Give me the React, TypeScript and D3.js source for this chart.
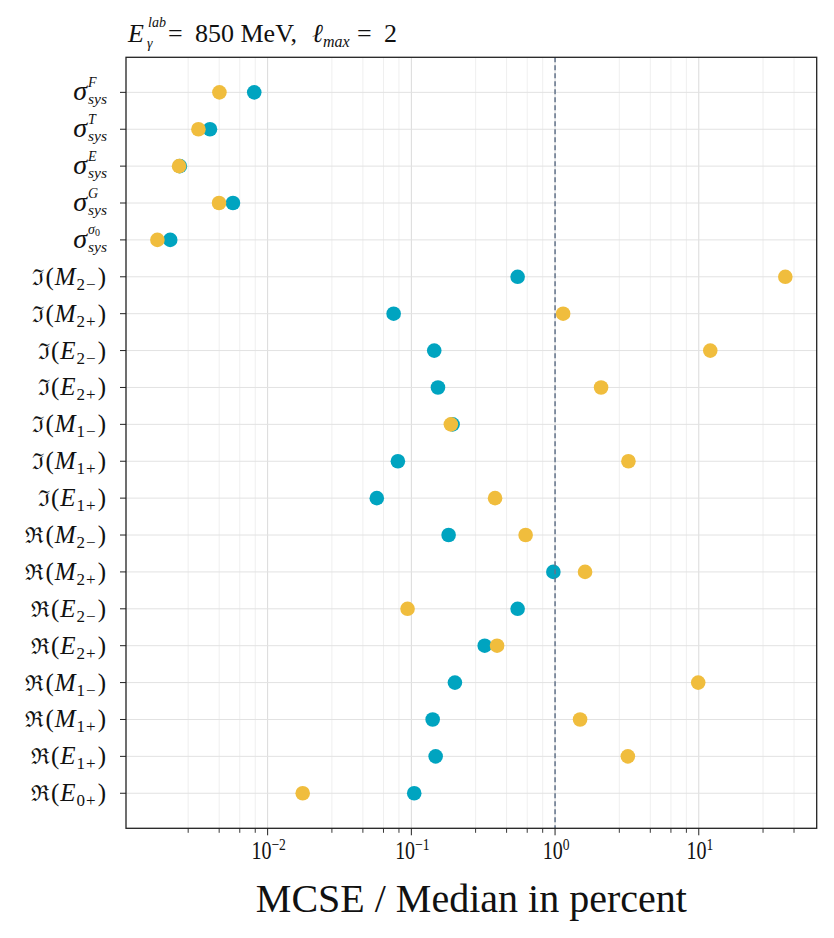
import * as d3 from 'd3';
import { useEffect, useRef } from 'react';

// rows, top to bottom
const categories = [
  'σ_sys^F', 'σ_sys^T', 'σ_sys^E', 'σ_sys^G', 'σ_sys^σ0',
  'ℑ(M_2−)', 'ℑ(M_2+)', 'ℑ(E_2−)', 'ℑ(E_2+)', 'ℑ(M_1−)', 'ℑ(M_1+)', 'ℑ(E_1+)',
  'ℜ(M_2−)', 'ℜ(M_2+)', 'ℜ(E_2−)', 'ℜ(E_2+)', 'ℜ(M_1−)', 'ℜ(M_1+)', 'ℜ(E_1+)', 'ℜ(E_0+)',
];

// MCSE / median in percent
const tealValues = [
  0.00807, 0.00397, 0.00245, 0.00574, 0.0021,
  0.549, 0.0753, 0.1443, 0.1532, 0.1936, 0.0806, 0.0575,
  0.1817, 0.973, 0.549, 0.324, 0.201, 0.1407, 0.1476, 0.1047,
];
const yellowValues = [
  0.00462, 0.0033, 0.00242, 0.00459, 0.00171,
  40.0, 1.138, 12.02, 2.09, 0.1884, 3.24, 0.3824,
  0.624, 1.617, 0.0941, 0.395, 9.91, 1.493, 3.21, 0.01754,
];

const majorTicks = [1e-2, 1e-1, 1e0, 1e1];
const majorTickLabels = ['−2', '−1', '0', '1'];
const minorMultipliers = [2.8, 4.6, 6.4, 8.2];
const decades = [1e-3, 1e-2, 1e-1, 1e0, 1e1];

const TEAL = '#00a4c0';
const YELLOW = '#f0bd3d';
const SERIF = '"Liberation Serif", "DejaVu Serif", serif';

const W = 834;
const H = 938;

const App = () => {
  const svgRef = useRef<SVGSVGElement>(null);

  useEffect(() => {
    const svg = d3.select(svgRef.current);
    svg.selectAll('*').remove();

    const margin = { top: 57.3, right: 17.3, bottom: 109.7, left: 126 };
    const innerWidth = W - margin.left - margin.right;
    const innerHeight = H - margin.top - margin.bottom;

    // log domain with 5% margins (in log space)
    const all = tealValues.concat(yellowValues);
    const lo = Math.log10(d3.min(all)!);
    const hi = Math.log10(d3.max(all)!);
    const pad = (hi - lo) * 0.05;

    const xScale = d3
      .scaleLog()
      .domain([10 ** (lo - pad), 10 ** (hi + pad)])
      .range([0, innerWidth]);

    const n = categories.length;
    const yScale = d3
      .scaleLinear()
      .domain([-(n - 1) * 0.05, (n - 1) * 1.05])
      .range([0, innerHeight]);

    const chart = svg
      .append('g')
      .attr('transform', `translate(${margin.left},${margin.top})`);

    const minorTicks = decades
      .flatMap((d) => minorMultipliers.map((m) => d * m))
      .filter((v) => xScale(v) > 2 && xScale(v) < innerWidth - 4);

    // Grid
    chart
      .selectAll('.minor-grid')
      .data(minorTicks)
      .enter()
      .append('line')
      .attr('x1', (d) => xScale(d))
      .attr('x2', (d) => xScale(d))
      .attr('y1', 0)
      .attr('y2', innerHeight)
      .attr('stroke', '#ededed')
      .attr('stroke-width', 0.9);

    chart
      .selectAll('.major-grid')
      .data(majorTicks)
      .enter()
      .append('line')
      .attr('x1', (d) => xScale(d))
      .attr('x2', (d) => xScale(d))
      .attr('y1', 0)
      .attr('y2', innerHeight)
      .attr('stroke', '#dadada')
      .attr('stroke-width', 1);

    chart
      .selectAll('.row-grid')
      .data(categories)
      .enter()
      .append('line')
      .attr('x1', 0)
      .attr('x2', innerWidth)
      .attr('y1', (_, i) => yScale(i))
      .attr('y2', (_, i) => yScale(i))
      .attr('stroke', '#e2e2e2')
      .attr('stroke-width', 1);

    // Dots: teal first, yellow on top
    chart
      .selectAll('.teal')
      .data(tealValues)
      .enter()
      .append('circle')
      .attr('cx', (d) => xScale(d))
      .attr('cy', (_, i) => yScale(i))
      .attr('r', 7.3)
      .attr('fill', TEAL);

    chart
      .selectAll('.yellow')
      .data(yellowValues)
      .enter()
      .append('circle')
      .attr('cx', (d) => xScale(d))
      .attr('cy', (_, i) => yScale(i))
      .attr('r', 7.3)
      .attr('fill', YELLOW);

    // Reference line at 1 %
    chart
      .append('line')
      .attr('x1', xScale(1))
      .attr('x2', xScale(1))
      .attr('y1', 0)
      .attr('y2', innerHeight)
      .attr('stroke', '#62738a')
      .attr('stroke-width', 1.5)
      .attr('stroke-dasharray', '5,3');

    // Frame
    chart
      .append('rect')
      .attr('width', innerWidth)
      .attr('height', innerHeight)
      .attr('fill', 'none')
      .attr('stroke', '#222')
      .attr('stroke-width', 1.3);

    // X ticks
    chart
      .selectAll('.xmajor')
      .data(majorTicks)
      .enter()
      .append('line')
      .attr('x1', (d) => xScale(d))
      .attr('x2', (d) => xScale(d))
      .attr('y1', innerHeight)
      .attr('y2', innerHeight + 7)
      .attr('stroke', '#222')
      .attr('stroke-width', 1);

    chart
      .selectAll('.xminor')
      .data(minorTicks)
      .enter()
      .append('line')
      .attr('x1', (d) => xScale(d))
      .attr('x2', (d) => xScale(d))
      .attr('y1', innerHeight)
      .attr('y2', innerHeight + 4.5)
      .attr('stroke', '#222')
      .attr('stroke-width', 0.9);

    majorTicks.forEach((t, i) => {
      const lbl = chart
        .append('text')
        .attr('transform', `translate(${xScale(t) + 1},${innerHeight + 31}) scale(0.8,1)`)
        .attr('text-anchor', 'middle')
        .style('font-family', SERIF)
        .style('font-size', '25px')
        .attr('fill', '#111');
      lbl.append('tspan').text('10');
      lbl
        .append('tspan')
        .attr('dy', -9)
        .style('font-size', '17px')
        .text(majorTickLabels[i]);
    });

    // Y ticks
    chart
      .selectAll('.ytick')
      .data(categories)
      .enter()
      .append('line')
      .attr('x1', -6)
      .attr('x2', 0)
      .attr('y1', (_, i) => yScale(i))
      .attr('y2', (_, i) => yScale(i))
      .attr('stroke', '#222')
      .attr('stroke-width', 1);

    // Y labels
    categories.forEach((c, i) => {
      const y = yScale(i);
      const sig = c.match(/^σ_sys\^(.+)$/);
      if (sig) {
        const subX = -38;
        chart
          .append('text')
          .attr('x', subX - 1)
          .attr('y', y + 8)
          .attr('text-anchor', 'end')
          .style('font-family', SERIF)
          .style('font-style', 'italic')
          .style('font-size', '28px')
          .attr('fill', '#111')
          .text('σ');
        const sup = chart
          .append('text')
          .attr('x', subX)
          .attr('y', y - 5.5)
          .style('font-family', SERIF)
          .style('font-style', 'italic')
          .style('font-size', '14px')
          .attr('fill', '#111');
        if (sig[1] === 'σ0') {
          sup.append('tspan').text('σ');
          sup.append('tspan').attr('dy', 2).style('font-size', '10px').style('font-style', 'normal').text('0');
        } else {
          sup.text(sig[1]);
        }
        chart
          .append('text')
          .attr('x', subX)
          .attr('y', y + 12)
          .style('font-family', SERIF)
          .style('font-style', 'italic')
          .style('font-size', '15.5px')
          .attr('fill', '#111')
          .text('sys');
        return;
      }
      const m = c.match(/^(.)\((.)_(.)(.)\)$/);
      if (!m) return;
      const t = chart
        .append('text')
        .attr('x', -20)
        .attr('y', y + 8)
        .attr('text-anchor', 'end')
        .style('font-family', SERIF)
        .style('font-size', '25px')
        .attr('fill', '#111');
      t.append('tspan').style('font-family', '"DejaVu Serif", serif').style('font-size', '22px').text(m[1]);
      t.append('tspan').attr('dx', 1).text('(');
      t.append('tspan').attr('dx', 1).style('font-style', 'italic').text(m[2]);
      t.append('tspan').attr('dy', 5).attr('dx', 1).style('font-size', '17px').text(m[3]);
      t.append('tspan').attr('dx', 1).style('font-size', '17px').text(m[4]);
      t.append('tspan').attr('dy', -5).attr('dx', 2).text(')');
    });

    // X axis label
    svg
      .append('text')
      .attr('x', margin.left + innerWidth / 2)
      .attr('y', 911.5)
      .attr('text-anchor', 'middle')
      .style('font-family', SERIF)
      .style('font-size', '40px')
      .attr('fill', '#111')
      .text('MCSE / Median in percent');

    // Title
    const title = svg.append('g').style('font-family', SERIF).attr('fill', '#111');
    title
      .append('text')
      .attr('x', 128)
      .attr('y', 42)
      .style('font-style', 'italic')
      .style('font-size', '26px')
      .text('E');
    title
      .append('text')
      .attr('x', 148)
      .attr('y', 27)
      .style('font-style', 'italic')
      .style('font-size', '14px')
      .text('lab');
    title
      .append('text')
      .attr('x', 147)
      .attr('y', 48)
      .style('font-style', 'italic')
      .style('font-size', '14px')
      .text('γ');
    const rest = title
      .append('text')
      .attr('y', 42)
      .style('font-size', '26px');
    rest.append('tspan').attr('x', 168).text('=');
    rest.append('tspan').attr('x', 195).text('850 MeV,');
    rest.append('tspan').attr('x', 312).style('font-style', 'italic').text('ℓ');
    rest.append('tspan').attr('x', 323).attr('dy', 5).style('font-style', 'italic').style('font-size', '16px').text('max');
    rest.append('tspan').attr('x', 357).attr('dy', -5).text('=');
    rest.append('tspan').attr('x', 384).text('2');
  }, []);

  return (
    <svg
      ref={svgRef}
      width={W}
      height={H}
      style={{ position: 'absolute', left: 0, top: 0, background: '#fff' }}
    />
  );
};

export default App;
